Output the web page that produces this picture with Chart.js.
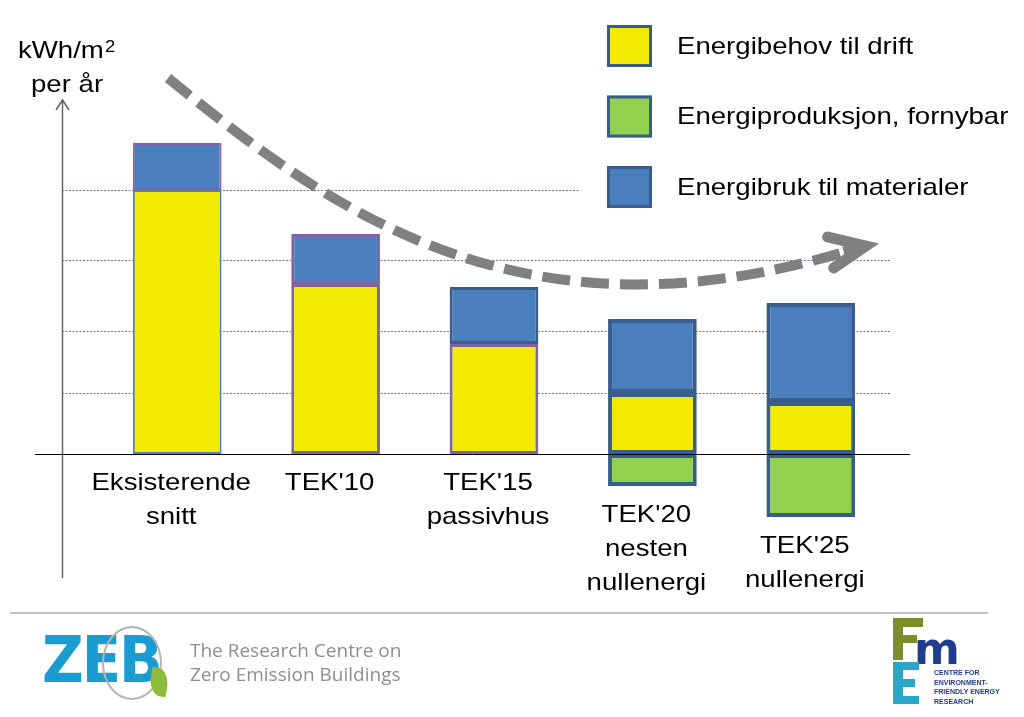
<!DOCTYPE html>
<html>
<head>
<meta charset="utf-8">
<script src="https://cdn.jsdelivr.net/npm/chart.js@4/dist/chart.umd.min.js"></script>
<style>
  body { margin: 0; background: #fff; overflow: hidden; }
  #wrap { position: relative; width: 1024px; height: 717px; }
  #main-chart { position: absolute; left: 0; top: 0; }
  .rule { position: absolute; left: 10px; top: 612px; width: 978px; height: 2px; background: #c0c0c0; }
  .zeb { position: absolute; left: 42px; top: 628px; font-family: "Liberation Sans Narrow", "DejaVu Sans Condensed", sans-serif;
         font-weight: bold; font-size: 64px; line-height: 64px; color: #1b9cd1; letter-spacing: -2px; }
  .zeb .ring { position: absolute; left: 60px; top: -2px; width: 56px; height: 70px; border: 2px solid #b5b5b5; border-radius: 50%; }
  .zeb .leaf { position: absolute; left: 108px; top: 40px; width: 18px; height: 28px; background: #8dbb3b; border-radius: 0 70% 0 70%; transform: rotate(10deg); }
  .zebtext { position: absolute; left: 190px; top: 638px; font-family: "Open Sans", sans-serif; font-size: 19px; line-height: 24px; color: #8e8e8e; }
  .fme { position: absolute; left: 890px; top: 616px; width: 90px; height: 92px; }
  .fme .f { position: absolute; left: 3px; top: 2px; width: 10px; height: 42px; background: #7c8e2c; }
  .fme .f2 { position: absolute; left: 3px; top: 2px; width: 30px; height: 9px; background: #7c8e2c; }
  .fme .f3 { position: absolute; left: 3px; top: 19px; width: 24px; height: 8px; background: #7c8e2c; }
  .fme .m { position: absolute; left: 24px; top: 16px; font-family: "DejaVu Sans", sans-serif; font-weight: bold; font-size: 44px; line-height: 34px; color: #1f3d8c; }
  .fme .e { position: absolute; left: 3px; top: 46px; width: 10px; height: 42px; background: #2aa6c9; }
  .fme .e1 { position: absolute; left: 3px; top: 46px; width: 26px; height: 8px; background: #2aa6c9; }
  .fme .e2 { position: absolute; left: 3px; top: 63px; width: 22px; height: 8px; background: #2aa6c9; }
  .fme .e3 { position: absolute; left: 3px; top: 80px; width: 26px; height: 8px; background: #2aa6c9; }
  .fme .small { position: absolute; left: 44px; top: 52px; font-family: "Liberation Sans Narrow", sans-serif; font-weight: bold;
                font-size: 7px; line-height: 9.5px; color: #1f3d8c; white-space: nowrap; }
</style>
</head>
<body>
<div id="wrap">
  <canvas id="main-chart" width="1024" height="717"></canvas>
  <div class="rule"></div>
  <div class="zeb">ZEB<div class="ring"></div><div class="leaf"></div></div>
  <div class="zebtext">The Research Centre on<br>Zero Emission Buildings</div>
  <div class="fme">
    <div class="f"></div><div class="f2"></div><div class="f3"></div>
    <div class="m">m</div>
    <div class="e"></div><div class="e1"></div><div class="e2"></div><div class="e3"></div>
    <div class="small">CENTRE FOR<br>ENVIRONMENT-<br>FRIENDLY ENERGY<br>RESEARCH</div>
  </div>
</div>
<script>
// data (kWh/m2 per year, arbitrary scale)
const categories = [
    ['Eksisterende', 'snitt'],
    ["TEK'10"],
    ["TEK'15", 'passivhus'],
    ["TEK'20", 'nesten', 'nullenergi'],
    ["TEK'25", 'nullenergi']
];
const driftValues = [264, 170, 110, 61, 52];
const materialValues = [47, 50, 57, 74, 99];
const produksjonValues = [0, 0, 0, -32, -63];
const gridTicks = [61, 123, 194, 264];
const seriesLabels = ['Energibehov til drift', 'Energibruk til materialer', 'Energiproduksjon, fornybar'];

const YELLOW = '#f2ea00';
const BLUE = '#4b7ebc';
const GREEN = '#92d050';
const DARK = '#385d8a';
const PURPLE = '#8064a2';
const FONT = '"Liberation Sans", Arial, sans-serif';
const STRETCH = 1.15;

function stretchedText(ctx, text, x, y, align) {
    ctx.save();
    ctx.translate(x, y);
    ctx.scale(STRETCH, 1);
    ctx.textAlign = align || 'left';
    ctx.fillText(text, 0, 0);
    ctx.restore();
}

const decorPlugin = {
    id: 'decor',
    beforeDatasetsDraw(chart) {
        const ctx = chart.ctx;
        const y = chart.scales.y;
        ctx.save();
        // dotted gridlines
        ctx.strokeStyle = '#7a70b0';
        ctx.lineWidth = 1;
        ctx.setLineDash([2, 1.5]);
        gridTicks.forEach((t, i) => {
            const py = Math.round(y.getPixelForValue(t)) + 0.5;
            const right = i === gridTicks.length - 1 ? 580 : 890;
            ctx.beginPath();
            ctx.moveTo(62, py);
            ctx.lineTo(right, py);
            ctx.stroke();
        });
        ctx.setLineDash([]);
        // y axis with arrow
        ctx.strokeStyle = '#666';
        ctx.lineWidth = 1.5;
        ctx.beginPath();
        ctx.moveTo(62.5, 578);
        ctx.lineTo(62.5, 100);
        ctx.moveTo(56, 110);
        ctx.lineTo(62.5, 100);
        ctx.lineTo(69, 110);
        ctx.stroke();
        ctx.restore();
    },
    afterDatasetsDraw(chart) {
        const ctx = chart.ctx;
        const x = chart.scales.x;
        const y = chart.scales.y;
        ctx.save();

        // zero line
        const zero = Math.round(y.getPixelForValue(0)) + 0.5;
        ctx.strokeStyle = '#000';
        ctx.lineWidth = 1;
        ctx.beginPath();
        ctx.moveTo(35, zero);
        ctx.lineTo(910, zero);
        ctx.stroke();

        // category labels under each bar
        ctx.fillStyle = '#000';
        ctx.font = '24px ' + FONT;
        ctx.textBaseline = 'middle';
        categories.forEach((lines, i) => {
            const bottom = Math.max(zero, y.getPixelForValue(produksjonValues[i]));
            const cx = x.getPixelForValue(i) - 6;
            lines.forEach((line, j) => {
                stretchedText(ctx, line, cx, bottom + 29 + j * 34, 'center');
            });
        });

        // dashed trend arrow (data space: category index, value)
        const pts = [[-0.058, 376], [0.964, 244], [2.163, 104], [4.233, 203]]
            .map(p => [x.getPixelForValue(p[0]), y.getPixelForValue(p[1])]);
        ctx.strokeStyle = '#808080';
        ctx.lineWidth = 10;
        ctx.setLineDash([28, 11]);
        ctx.beginPath();
        ctx.moveTo(pts[0][0], pts[0][1]);
        ctx.bezierCurveTo(pts[1][0], pts[1][1], pts[2][0], pts[2][1], pts[3][0], pts[3][1]);
        ctx.stroke();
        ctx.setLineDash([]);
        const tip = [pts[3][0] + 18, pts[3][1] - 5];
        ctx.lineWidth = 11;
        ctx.lineCap = 'round';
        ctx.lineJoin = 'miter';
        ctx.beginPath();
        ctx.moveTo(tip[0] - 38, tip[1] - 9);
        ctx.lineTo(tip[0], tip[1]);
        ctx.lineTo(tip[0] - 32, tip[1] + 22);
        ctx.stroke();
        ctx.lineCap = 'butt';
        ctx.beginPath();
        ctx.moveTo(pts[3][0] - 4, pts[3][1] + 1);
        ctx.lineTo(tip[0] - 6, tip[1] + 2);
        ctx.stroke();

        // legend, custom order: drift, produksjon, materialer
        const order = [0, 2, 1];
        order.forEach((di, k) => {
            const ds = chart.data.datasets[di];
            const top = 25 + k * 70.5;
            ctx.fillStyle = ds.backgroundColor;
            ctx.fillRect(607, top, 45, 42);
            ctx.strokeStyle = DARK;
            ctx.lineWidth = 3;
            ctx.strokeRect(608.5, top + 1.5, 42, 39);
            ctx.fillStyle = '#000';
            ctx.font = '24px ' + FONT;
            stretchedText(ctx, ds.label, 677, top + 22);
        });

        // axis title
        ctx.textBaseline = 'alphabetic';
        ctx.font = '24px ' + FONT;
        stretchedText(ctx, 'kWh/m', 18, 58);
        ctx.font = '16px ' + FONT;
        stretchedText(ctx, '2', 105, 52);
        ctx.font = '24px ' + FONT;
        stretchedText(ctx, 'per år', 31, 92);

        ctx.restore();
    }
};

const ctx = document.getElementById('main-chart').getContext('2d');
new Chart(ctx, {
    type: 'bar',
    data: {
        labels: categories.map(c => c.join(' ')),
        datasets: [{
            label: seriesLabels[0],
            data: driftValues,
            backgroundColor: YELLOW,
            borderColor: ['#4f81bd', PURPLE, PURPLE, DARK, DARK],
            borderWidth: [2, 3, 3, 4, 4],
            borderSkipped: false,
            stack: 'energi'
        }, {
            label: seriesLabels[1],
            data: materialValues,
            backgroundColor: BLUE,
            borderColor: [PURPLE, PURPLE, DARK, DARK, DARK],
            borderWidth: [2, 3, 3, 4, 4],
            borderSkipped: false,
            stack: 'energi'
        }, {
            label: seriesLabels[2],
            data: produksjonValues,
            backgroundColor: GREEN,
            borderColor: DARK,
            borderWidth: 4,
            borderSkipped: false,
            stack: 'energi'
        }]
    },
    options: {
        responsive: false,
        animation: false,
        layout: {
            padding: { top: 124, right: 134, bottom: 173, left: 98 }
        },
        datasets: {
            bar: { barPercentage: 0.56, categoryPercentage: 1.0 }
        },
        plugins: {
            legend: { display: false },
            tooltip: { enabled: false }
        },
        scales: {
            x: { display: false, stacked: true },
            y: { display: false, stacked: true, min: -90, max: 330 }
        }
    },
    plugins: [decorPlugin]
});
</script>
</body>
</html>
